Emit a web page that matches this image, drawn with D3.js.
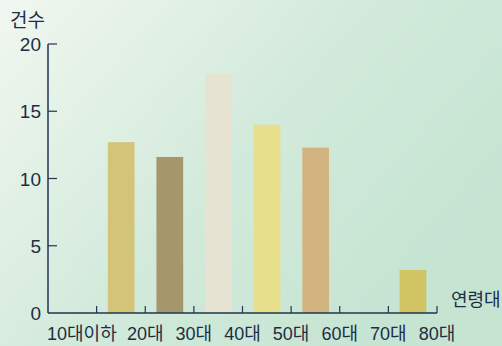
<!DOCTYPE html>
<html>
<head>
<meta charset="utf-8">
<script src="https://cdn.jsdelivr.net/npm/d3@7"></script>
<style>
  html, body { margin: 0; padding: 0; }
  body { width: 502px; height: 346px; overflow: hidden; }
  text { font-family: "Liberation Sans", "Noto Sans CJK KR", sans-serif; fill: #1c2e44; }
</style>
</head>
<body>
<div id="chart"></div>
<script>
var width = 502, height = 346,
    margin = {top: 44, bottom: 33, left: 48, right: 65};

// data
var categories = ['10대이하', '20대', '30대', '40대', '50대', '60대', '70대', '80대'];
var values = [0, 12.7, 11.6, 17.8, 14.0, 12.3, 0, 3.2];
var barColors = ['#d4c478', '#d4c478', '#a6966b', '#e6e3d2', '#e8df8c', '#d1b47f', '#d1c462', '#d1c462'];
var yTicks = [0, 5, 10, 15, 20];

var svg = d3.select('#chart')
    .append('svg')
    .attr('width', width)
    .attr('height', height);

// background
var grad = svg.append('defs').append('linearGradient')
    .attr('id', 'bg')
    .attr('x1', '0%').attr('y1', '0%')
    .attr('x2', '100%').attr('y2', '60%');
grad.append('stop').attr('offset', '0%').attr('stop-color', '#f1f7f0');
grad.append('stop').attr('offset', '55%').attr('stop-color', '#d2eadb');
grad.append('stop').attr('offset', '100%').attr('stop-color', '#c5e4d2');
svg.append('rect').attr('width', width).attr('height', height).attr('fill', 'url(#bg)');

var x = d3.scaleBand()
    .domain(categories)
    .range([margin.left, width - margin.right])
    .padding(0);

var y = d3.scaleLinear()
    .domain([0, 20])
    .range([height - margin.bottom, margin.top]);

// bars
svg.selectAll('.bar')
    .data(categories.map((c, i) => ({cat: c, v: values[i], color: barColors[i]})).filter(d => d.v > 0))
    .join('rect')
    .attr('class', 'bar')
    .attr('x', d => x(d.cat) + x.bandwidth() * 0.23)
    .attr('width', x.bandwidth() * 0.55)
    .attr('y', d => y(d.v))
    .attr('height', d => y(0) - y(d.v))
    .attr('fill', d => d.color);

var axisColor = '#1f3550';

// y axis
svg.append('line')
    .attr('x1', margin.left).attr('x2', margin.left)
    .attr('y1', y(20)).attr('y2', y(0))
    .attr('stroke', axisColor).attr('stroke-width', 1.5);
svg.selectAll('.ytick')
    .data(yTicks.filter(d => d > 0))
    .join('line')
    .attr('x1', margin.left).attr('x2', margin.left + 9)
    .attr('y1', d => y(d)).attr('y2', d => y(d))
    .attr('stroke', axisColor).attr('stroke-width', 1.2);
svg.selectAll('.ylab')
    .data(yTicks)
    .join('text')
    .attr('x', 41)
    .attr('y', d => y(d) + 7)
    .attr('text-anchor', 'end')
    .style('font-size', '19px')
    .text(d => d);

// x axis
svg.append('line')
    .attr('x1', margin.left).attr('x2', width - margin.right)
    .attr('y1', y(0)).attr('y2', y(0))
    .attr('stroke', axisColor).attr('stroke-width', 1.5);
svg.selectAll('.xtick')
    .data(categories)
    .join('line')
    .attr('x1', d => x(d) + x.bandwidth()).attr('x2', d => x(d) + x.bandwidth())
    .attr('y1', y(0)).attr('y2', y(0) - 7)
    .attr('stroke', axisColor).attr('stroke-width', 1.2);
svg.selectAll('.xlab')
    .data(categories)
    .join('text')
    .attr('x', (d, i) => i == 0 ? margin.left - 1 : x(d) + x.bandwidth())
    .attr('y', 340)
    .attr('text-anchor', (d, i) => i == 0 ? 'start' : 'middle')
    .style('font-size', '18px')
    .text(d => d);

// axis titles
svg.append('text')
    .attr('x', 10).attr('y', 27)
    .style('font-size', '19px')
    .text('건수');
svg.append('text')
    .attr('x', 451).attr('y', 306)
    .style('font-size', '18px')
    .text('연령대');
</script>
</body>
</html>
